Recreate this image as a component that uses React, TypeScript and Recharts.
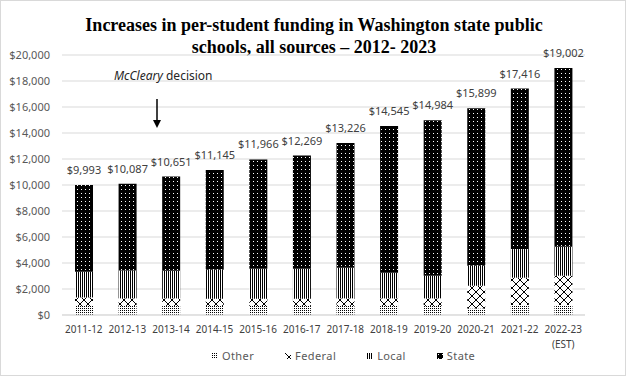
import { BarChart, Bar, XAxis, YAxis, CartesianGrid, LabelList } from 'recharts';

const categories = [
  '2011-12', '2012-13', '2013-14', '2014-15', '2015-16', '2016-17',
  '2017-18', '2018-19', '2019-20', '2020-21', '2021-22', '2022-23 (EST)',
];
const other = [700, 700, 700, 700, 700, 700, 700, 700, 700, 500, 770, 770];
const federal = [650, 580, 580, 550, 550, 550, 580, 580, 580, 1750, 2100, 2250];
const local = [1980, 2150, 2120, 2230, 2310, 2310, 2360, 1970, 1740, 1540, 2200, 2230];
const state = [6663, 6657, 7251, 7665, 8406, 8709, 9586, 11295, 11964, 12109, 12346, 13752];
const totals = [9993, 10087, 10651, 11145, 11966, 12269, 13226, 14545, 14984, 15899, 17416, 19002];
const yTicks = [0, 2000, 4000, 6000, 8000, 10000, 12000, 14000, 16000, 18000, 20000];

const data = categories.map((name, i) => ({
  name,
  other: other[i],
  federal: federal[i],
  local: local[i],
  state: state[i],
  total: totals[i],
}));

const legendItems = [
  { key: 'other', label: 'Other', fill: 'url(#pOther)' },
  { key: 'federal', label: 'Federal', fill: 'url(#pFed)' },
  { key: 'local', label: 'Local', fill: 'url(#pLocal)' },
  { key: 'state', label: 'State', fill: 'url(#pState)' },
];

const FONT = '"Noto Sans", sans-serif';
const money = (v: number) => '$' + v.toLocaleString('en-US');

const CategoryTick = (props: any) => {
  const { x, y, payload } = props;
  const parts = String(payload.value).split(' ');
  return (
    <g transform={`translate(${x},${y})`}>
      {parts.map((p: string, i: number) => (
        <text key={i} x={0} y={0} dy={10 + i * 15} textAnchor="middle" fill="#404040" fontSize={10} fontFamily={FONT}>
          {p}
        </text>
      ))}
    </g>
  );
};

const App = () => {
  return (
    <div style={{ position: 'absolute', left: 0, top: 0, width: 626, height: 376, background: '#fff', boxSizing: 'border-box', border: '1px solid #d9d9d9', overflow: 'hidden' }}>
      <div style={{ position: 'absolute', left: 0, top: 13, width: 626, textAlign: 'center', fontFamily: '"Liberation Serif", serif', fontWeight: 'bold', fontSize: 18, lineHeight: '22px', color: '#000' }}>
        Increases in per-student funding in Washington state public
        <br />
        schools, all sources – 2012- 2023
      </div>

      <BarChart
        width={626}
        height={376}
        data={data}
        margin={{ top: 55, right: 41, bottom: 31, left: 8 }}
        style={{ position: 'absolute', left: -1, top: -1 }}
      >
        <defs>
          <pattern id="pState" width="4" height="4" patternUnits="userSpaceOnUse">
            <rect width="4" height="4" fill="#000" />
            <rect x="1" y="1" width="1" height="1" fill="#fff" />
          </pattern>
          <pattern id="pLocal" width="2" height="2" patternUnits="userSpaceOnUse">
            <rect width="2" height="2" fill="#fff" />
            <rect width="1" height="2" fill="#000" />
          </pattern>
          <pattern id="pFed" width="8" height="8" patternUnits="userSpaceOnUse">
            <rect width="8" height="8" fill="#fff" />
            <path d="M0,0 L8,8 M8,0 L0,8" stroke="#000" strokeWidth="1" />
          </pattern>
          <pattern id="pOther" width="2" height="2" patternUnits="userSpaceOnUse">
            <rect width="2" height="2" fill="#fff" />
            <rect width="1" height="1" fill="#000" />
          </pattern>
        </defs>
        <CartesianGrid vertical={false} stroke="#d9d9d9" />
        <XAxis
          dataKey="name"
          interval={0}
          tickLine={false}
          axisLine={{ stroke: '#d9d9d9' }}
          tick={<CategoryTick />}
        />
        <YAxis
          width={54}
          domain={[0, 20000]}
          ticks={yTicks}
          tickFormatter={money}
          axisLine={false}
          tickLine={false}
          tickMargin={6}
          tick={{ fill: '#595959', fontSize: 11, fontFamily: FONT }}
        />
        <Bar dataKey="other" stackId="a" fill="url(#pOther)" barSize={18} isAnimationActive={false} />
        <Bar dataKey="federal" stackId="a" fill="url(#pFed)" barSize={18} isAnimationActive={false} />
        <Bar dataKey="local" stackId="a" fill="url(#pLocal)" barSize={18} isAnimationActive={false} />
        <Bar dataKey="state" stackId="a" fill="url(#pState)" barSize={18} isAnimationActive={false}>
          <LabelList
            dataKey="total"
            position="top"
            offset={11}
            formatter={(v: any) => money(Number(v))}
            style={{ fill: '#404040', fontSize: 11, fontFamily: FONT }}
          />
        </Bar>
      </BarChart>

      <svg width={626} height={376} style={{ position: 'absolute', left: -1, top: -1, pointerEvents: 'none' }}>
        <text x={114} y={80} fontSize={12} fontFamily={FONT} fill="#262626">
          <tspan fontStyle="italic">McCleary</tspan> decision
        </text>
        <line x1={157} y1={99} x2={157} y2={121} stroke="#000" strokeWidth={1.5} />
        <path d="M153,120 L161,120 L157,128 Z" fill="#000" />
      </svg>

      <div style={{ position: 'absolute', left: 211, top: 347, display: 'flex', gap: 31, fontFamily: FONT, fontSize: 11, letterSpacing: 0.4, color: '#595959' }}>
        {legendItems.map((it) => (
          <div key={it.key} style={{ display: 'flex', alignItems: 'center', gap: 4 }}>
            <svg width={6} height={6}>
              <rect width={6} height={6} fill={it.fill} />
            </svg>
            <span>{it.label}</span>
          </div>
        ))}
      </div>
    </div>
  );
};

export default App;
